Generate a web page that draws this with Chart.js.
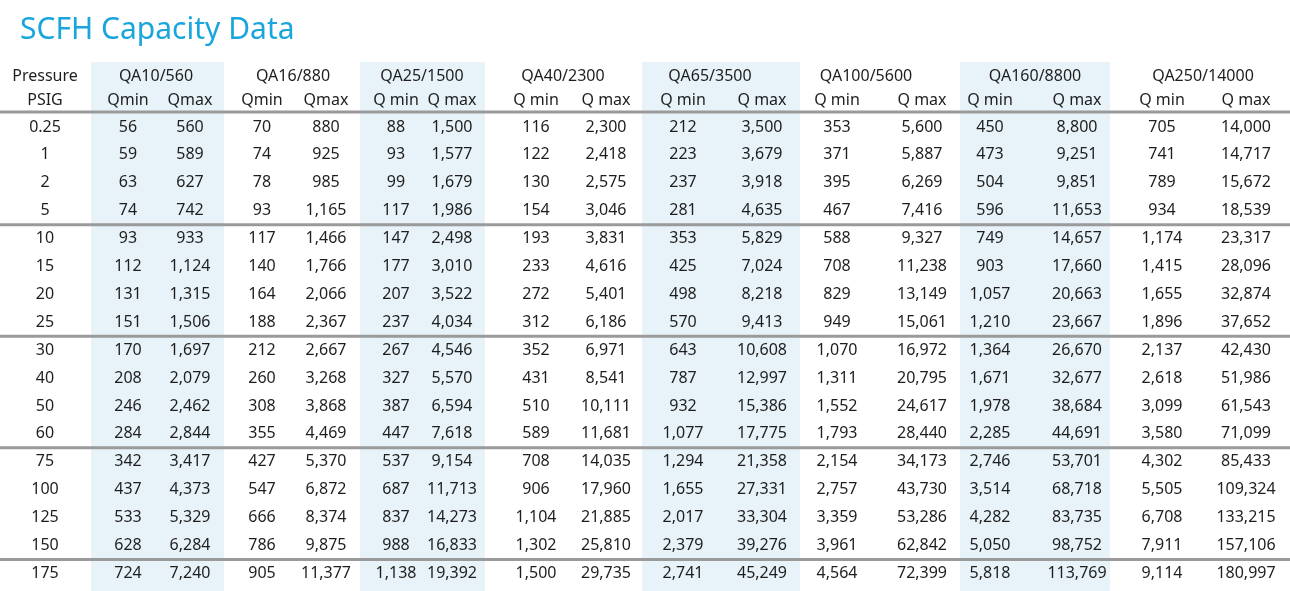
<!DOCTYPE html>
<html><head><meta charset="utf-8">
<script src="https://cdn.jsdelivr.net/npm/chart.js@4"></script>
<style>html,body{margin:0;padding:0;background:#fff}</style>
</head><body>
<canvas id="c" width="1290" height="591"></canvas>
<script>
const pressures=[0.25,1,2,5,10,15,20,25,30,40,50,60,75,100,125,150,175];
const models=['QA10/560','QA16/880','QA25/1500','QA40/2300','QA65/3500','QA100/5600','QA160/8800','QA250/14000'];
const subLabels=[['Qmin','Qmax'],['Qmin','Qmax'],['Q min','Q max'],['Q min','Q max'],['Q min','Q max'],['Q min','Q max'],['Q min','Q max'],['Q min','Q max']];
const qa10Min=[56,59,63,74,93,112,131,151,170,208,246,284,342,437,533,628,724];
const qa10Max=[560,589,627,742,933,1124,1315,1506,1697,2079,2462,2844,3417,4373,5329,6284,7240];
const qa16Min=[70,74,78,93,117,140,164,188,212,260,308,355,427,547,666,786,905];
const qa16Max=[880,925,985,1165,1466,1766,2066,2367,2667,3268,3868,4469,5370,6872,8374,9875,11377];
const qa25Min=[88,93,99,117,147,177,207,237,267,327,387,447,537,687,837,988,1138];
const qa25Max=[1500,1577,1679,1986,2498,3010,3522,4034,4546,5570,6594,7618,9154,11713,14273,16833,19392];
const qa40Min=[116,122,130,154,193,233,272,312,352,431,510,589,708,906,1104,1302,1500];
const qa40Max=[2300,2418,2575,3046,3831,4616,5401,6186,6971,8541,10111,11681,14035,17960,21885,25810,29735];
const qa65Min=[212,223,237,281,353,425,498,570,643,787,932,1077,1294,1655,2017,2379,2741];
const qa65Max=[3500,3679,3918,4635,5829,7024,8218,9413,10608,12997,15386,17775,21358,27331,33304,39276,45249];
const qa100Min=[353,371,395,467,588,708,829,949,1070,1311,1552,1793,2154,2757,3359,3961,4564];
const qa100Max=[5600,5887,6269,7416,9327,11238,13149,15061,16972,20795,24617,28440,34173,43730,53286,62842,72399];
const qa160Min=[450,473,504,596,749,903,1057,1210,1364,1671,1978,2285,2746,3514,4282,5050,5818];
const qa160Max=[8800,9251,9851,11653,14657,17660,20663,23667,26670,32677,38684,44691,53701,68718,83735,98752,113769];
const qa250Min=[705,741,789,934,1174,1415,1655,1896,2137,2618,3099,3580,4302,5505,6708,7911,9114];
const qa250Max=[14000,14717,15672,18539,23317,28096,32874,37652,42430,51986,61543,71099,85433,109324,133215,157106,180997];
const series=[[qa10Min,qa10Max],[qa16Min,qa16Max],[qa25Min,qa25Max],[qa40Min,qa40Max],[qa65Min,qa65Max],[qa100Min,qa100Max],[qa160Min,qa160Max],[qa250Min,qa250Max]];

// layout (positions only)
const colX=[[128,190],[262,326],[396,452],[536,606],[683,762],[837,922],[990,1077],[1162,1246]];
const groupX=[156,293,422,563,710,866,1035,1203];
const bands=[[91,224],[360,485],[642,800],[960,1110]];
const rowY0=127, rowStep=27.9;
const FONT='"Noto Sans", sans-serif';

const tablePlugin={id:'table',afterDraw(chart){
  const ctx=chart.ctx, X=v=>chart.scales.x.getPixelForValue(v), Y=v=>chart.scales.y.getPixelForValue(v);
  ctx.save();
  ctx.fillStyle='#e7f3f8';
  bands.forEach(b=>ctx.fillRect(X(b[0]),Y(62),X(b[1])-X(b[0]),Y(591)-Y(62)));
  ctx.strokeStyle='#9a9a9a';ctx.lineWidth=3;
  [112].concat([3,7,11,15].map(i=>rowY0+rowStep*(i+0.5))).forEach(y=>{ctx.beginPath();ctx.moveTo(X(0),Y(y));ctx.lineTo(X(1290),Y(y));ctx.stroke();});
  ctx.fillStyle='#1aa6dc';ctx.font='30px '+FONT;ctx.textAlign='left';ctx.textBaseline='middle';
  ctx.fillText('SCFH Capacity Data',X(20),Y(30));
  ctx.fillStyle='#1e1e1e';ctx.font='16px '+FONT;ctx.textAlign='center';
  ctx.fillText('Pressure',X(45),Y(76));ctx.fillText('PSIG',X(45),Y(100));
  models.forEach((m,i)=>{ctx.fillText(m,X(groupX[i]),Y(76));
    ctx.fillText(subLabels[i][0],X(colX[i][0]),Y(100));ctx.fillText(subLabels[i][1],X(colX[i][1]),Y(100));});
  pressures.forEach((p,r)=>{const y=Y(rowY0+rowStep*r);
    ctx.fillText(String(p),X(45),y);
    series.forEach((s,i)=>{ctx.fillText(s[0][r].toLocaleString('en-US'),X(colX[i][0]),y);ctx.fillText(s[1][r].toLocaleString('en-US'),X(colX[i][1]),y);});
  });
  ctx.restore();
}};

new Chart(document.getElementById('c'),{type:'scatter',data:{datasets:[{data:[]}]},
 options:{responsive:false,animation:false,layout:{padding:0},
  plugins:{legend:{display:false},tooltip:{enabled:false},title:{display:false}},
  scales:{x:{type:'linear',min:0,max:1290,display:false},y:{type:'linear',min:0,max:591,reverse:true,display:false}}},
 plugins:[tablePlugin]});
</script>
</body></html>
